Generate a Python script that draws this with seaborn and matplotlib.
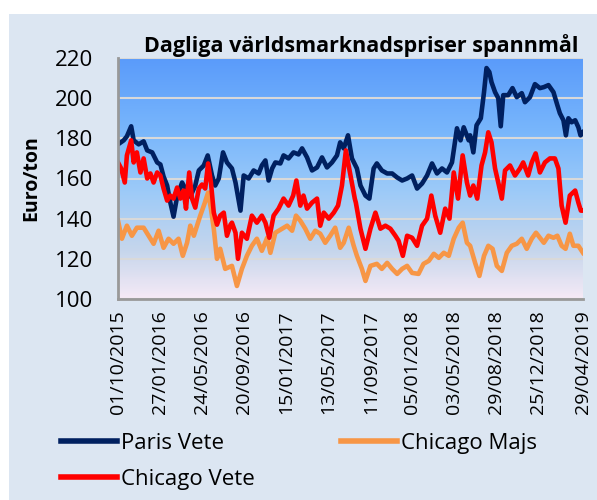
import matplotlib
matplotlib.use("Agg")
import matplotlib.pyplot as plt
from matplotlib.colors import LinearSegmentedColormap
from matplotlib.lines import Line2D
from matplotlib.patches import Rectangle
import numpy as np
import pandas as pd
import seaborn as sb

# day offsets counted from 01/10/2015, values in Euro/ton
start = pd.Timestamp("2015-10-01")

paris_days = [0, 16, 25, 37, 44, 58, 72, 82, 96, 110, 119, 128, 138, 147, 156, 166, 180, 189, 203, 217,
              227, 241, 252, 264, 273, 283, 295, 306,
              320, 330, 344, 353, 367, 381, 395, 404, 414, 423, 433, 442, 456, 465, 479, 493, 507, 517, 531, 545,
              559, 573, 587, 601, 615, 624, 634, 646, 657, 671,
              681, 695, 706, 718, 727, 741, 756, 770, 784, 798, 812, 826, 840, 854, 868, 882, 896, 910, 924, 938,
              952, 962, 971, 985,
              989, 998, 1007, 1019, 1028, 1035, 1043, 1049, 1059, 1068, 1075, 1082, 1096, 1108, 1120, 1134, 1143,
              1157, 1171, 1185, 1196, 1209, 1223, 1234, 1241, 1251, 1258, 1265, 1274, 1284, 1293, 1299, 1306]
paris_vals = [177, 179, 181, 186, 179, 177, 178.5, 174, 173, 168, 167, 161, 156.5, 148, 141, 151, 158, 155, 151, 156.5,
              164, 166.5, 171.5, 161.5, 156.5, 160, 173, 168,
              165, 158, 144, 161.5, 160, 164, 162.5, 166.5, 169, 159, 165, 168, 167.5, 171.5, 170, 173, 172, 175,
              170.5, 164, 165.5, 170.5, 165.5, 168, 171.5, 178, 175, 181.5, 170, 165,
              156.5, 151.5, 150, 165, 167.5, 164, 162.5, 162.5, 160.5, 159, 160, 161.5, 155, 157.5, 161.5, 167.5,
              162.5, 165, 163, 168, 185, 179, 185.5, 179,
              181.5, 173, 186.5, 190, 203, 215, 213, 208, 203, 200, 186, 201.5, 201.5, 205, 200.5, 202.5, 198,
              200.5, 207, 205, 205.5, 206.5, 203, 196.5, 192.5, 189, 181.5, 190, 188, 189, 185.5, 181.5, 183]

cvete_days = [0, 9, 19, 25, 37, 44, 53, 63, 72, 82, 91, 100, 110, 119, 128, 138, 147, 156, 166, 175,
              184, 191, 200, 208, 217, 227, 236, 245, 253, 261, 269, 278, 287, 297, 306, 316,
              320, 330, 337, 348, 362, 376, 390, 404, 414, 425, 437, 451, 465, 479, 492, 501, 512, 521, 531, 545,
              559, 568, 578, 592, 606, 618, 629, 640, 653, 665,
              668, 681, 695, 709, 723, 737, 751, 765, 779, 788, 800, 812, 826, 840, 854, 868, 880, 891, 905, 919,
              931, 943, 955, 968, 980,
              989, 998, 1009, 1021, 1031, 1040, 1049, 1059, 1068, 1078, 1087, 1101, 1115, 1129, 1138, 1152, 1162,
              1173, 1185, 1199, 1213, 1227, 1237, 1246, 1257, 1269, 1284, 1293, 1300, 1306]
cvete_vals = [168, 165, 158, 171.5, 179, 168, 173, 163, 170, 160, 162.5, 158, 163, 161.5, 155, 149, 151.5, 150, 155.5, 150,
              154, 145, 163, 150, 145.5, 155, 157, 155, 167.5, 158, 143, 137, 141.5, 143, 131.5, 137,
              138, 133, 120, 133, 130, 141.5, 138, 141.5, 138, 130.5, 141.5, 145, 150, 146.5, 151.5, 159, 146.5,
              151.5, 145, 148, 150, 136.5, 143, 140, 143, 146.5, 156.5, 174, 161.5, 150,
              148, 135, 125, 135, 143, 135, 136.5, 135, 131.5, 129, 121.5, 131.5, 130.5, 126.5, 136.5, 140, 151.5,
              141.5, 133, 145, 140, 163, 150, 171.5, 158,
              151.5, 156.5, 150, 166.5, 173, 183, 178, 165, 158, 150, 164, 166.5, 161.5, 165, 168, 161.5, 168,
              172.5, 163, 168, 170, 170, 165, 146.5, 138, 151.5, 154, 148, 144, 144]

majs_days = [0, 11, 25, 39, 53, 72, 86, 100, 114, 128, 142, 156, 170, 182, 194, 203, 213, 222, 231, 243,
             253, 261, 269, 278, 287, 301,
             320, 334, 348, 362, 376, 390, 404, 419, 428, 442, 461, 475, 489, 500, 512, 526, 540, 554, 568, 582,
             596, 610, 624, 634, 648, 662,
             671, 685, 695, 709, 727, 741, 756, 770, 784, 798, 812, 826, 844, 858, 873, 887, 901, 915, 929, 943,
             957, 968, 980,
             989, 1003, 1015, 1028, 1040, 1052, 1064, 1078, 1092, 1106, 1120, 1134, 1148, 1162, 1174, 1185, 1196,
             1209, 1223, 1234, 1246, 1257, 1269, 1279, 1293, 1306]
majs_vals = [139, 130, 136.5, 131.5, 135.5, 135.5, 131.5, 127.5, 134, 125.5, 130, 127.5, 130, 121.5, 128, 136.5, 131.5,
             136.5, 141.5, 147.5, 153, 145, 135, 120, 125, 115,
             116.5, 106.5, 115, 121.5, 126.5, 130, 124, 130.5, 123, 133, 135, 136.5, 134, 141.5, 139, 135, 130,
             134, 132.5, 128, 131.5, 135.5, 125.5, 128, 135.5, 126.5,
             121.5, 115, 109, 116.5, 117.5, 115, 118, 115, 112.5, 115, 116.5, 113, 112.5, 117.5, 119, 122.5,
             120.5, 123, 121.5, 130, 135.5, 138, 128,
             126.5, 118, 111.5, 121.5, 126.5, 125, 116.5, 114, 123, 126.5, 127.5, 130, 125, 130, 133, 130.5, 128,
             131.5, 130.5, 131.5, 126.5, 125, 132.5, 126.5, 126.5, 123]

tick_labels = ["01/10/2015", "27/01/2016", "24/05/2016", "20/09/2016", "15/01/2017", "13/05/2017",
               "11/09/2017", "05/01/2018", "03/05/2018", "29/08/2018", "25/12/2018", "29/04/2019"]
y_ticks = [100, 120, 140, 160, 180, 200, 220]

series_order = ["Paris Vete", "Chicago Majs", "Chicago Vete"]
colors = {"Paris Vete": "#002060", "Chicago Majs": "#f79646", "Chicago Vete": "#ff0000"}

frames = []
for name, days, vals in [("Paris Vete", paris_days, paris_vals),
                         ("Chicago Majs", majs_days, majs_vals),
                         ("Chicago Vete", cvete_days, cvete_vals)]:
    frames.append(pd.DataFrame({"datum": start + pd.to_timedelta(days, unit="D"),
                                "pris": vals, "serie": name}))
df = pd.concat(frames, ignore_index=True)

plt.rcParams["font.family"] = ["Open Sans", "DejaVu Sans"]
fig = plt.figure(figsize=(5.97, 5.0), dpi=100, facecolor="white")
fig.add_artist(Rectangle((9 / 597, 0), 1 - 9 / 597, 1 - 14 / 500, transform=fig.transFigure,
                         facecolor="#dce6f2", edgecolor="none", zorder=-10))

pos = [118 / 597, 1 - 299 / 500, (583 - 118) / 597, (299 - 58) / 500]

# gradient plot area behind the lines
bg = fig.add_axes(pos, zorder=0)
grad = LinearSegmentedColormap.from_list("grad", [(0.0, "#f6eaf6"), (0.2, "#c6d6ec"), (0.45, "#9ccaf8"),
                                                  (0.7, "#78b6fc"), (1.0, "#5a9bfa")])
bg.imshow(np.linspace(0, 1, 256).reshape(-1, 1), cmap=grad, aspect="auto", origin="lower", extent=[0, 1, 0, 1])
bg.axis("off")

ax = fig.add_axes(pos, zorder=1)
ax.set_facecolor("none")
sb.lineplot(data=df, x="datum", y="pris", hue="serie", hue_order=series_order, palette=colors,
            estimator=None, linewidth=3.3, legend=False, ax=ax)

ax.set_xlim(start, start + pd.Timedelta(days=1306))
ax.set_ylim(100, 220)
ax.set_yticks(y_ticks)
ax.set_xticks(pd.to_datetime(tick_labels, format="%d/%m/%Y"))
ax.set_xticklabels(tick_labels, rotation=90, fontsize=14)
ax.tick_params(axis="y", labelsize=16, length=0, pad=18)
ax.tick_params(axis="x", length=0, pad=8)
ax.set_xlabel("")
ax.set_ylabel("")
ax.grid(axis="y", color="#d9d9d9", linewidth=1.5)
ax.set_axisbelow(True)
for s in ["top", "right"]:
    ax.spines[s].set_visible(False)
for s in ["left", "bottom"]:
    ax.spines[s].set_color("#999999")
    ax.spines[s].set_linewidth(2)

fig.text(578 / 597, 1 - 52 / 500, "Dagliga världsmarknadspriser spannmål", ha="right", va="baseline",
         fontsize=15.5, fontweight="bold")
fig.text(31 / 597, 1 - 178 / 500, "Euro/ton", rotation=90, ha="center", va="center",
         fontsize=14, fontweight="bold")

handles = [Line2D([], [], color=colors[n], linewidth=4) for n in ["Paris Vete", "Chicago Vete", "Chicago Majs"]]
fig.legend(handles, ["Paris Vete", "Chicago Vete", "Chicago Majs"], ncol=2, loc="upper left",
           bbox_to_anchor=(61 / 597, 1 - 433 / 500), frameon=False, fontsize=16, handlelength=2.5,
           handletextpad=0.18, columnspacing=3.9, labelspacing=0.66, borderpad=0, borderaxespad=0)

plt.savefig("out.png", dpi=100)
